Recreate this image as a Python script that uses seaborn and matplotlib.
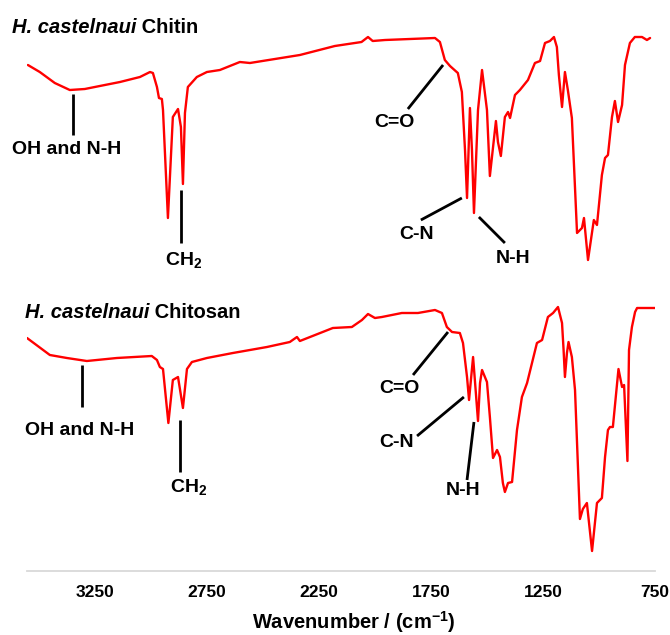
import numpy as np
import pandas as pd
import matplotlib
matplotlib.use("Agg")
import matplotlib.pyplot as plt
import seaborn as sns

# ── Spectra (transmittance, arbitrary %) ─────────────────────────────────────
chitin_wavenumber = [3549, 3496, 3429, 3362, 3295, 3228, 3138, 3049, 3004, 2991,
                     2973, 2964, 2951, 2946, 2924, 2902, 2879, 2866, 2857, 2848,
                     2835, 2795, 2750, 2692, 2603, 2558, 2335, 2179, 2060, 2031,
                     2010, 1955, 1732, 1710, 1688, 1665, 1630, 1612, 1598, 1589,
                     1576, 1567, 1558, 1540, 1522, 1500, 1487, 1460, 1451, 1438,
                     1420, 1406, 1397, 1375, 1353, 1317, 1286, 1263, 1241, 1219,
                     1201, 1188, 1179, 1165, 1152, 1139, 1121, 1098, 1076, 1067,
                     1049, 1023, 1009, 987, 973, 960, 942, 929, 915, 897,
                     884, 862, 840, 808, 786, 772]
chitin_transmittance = [88.8, 86.0, 81.6, 78.8, 79.2, 80.4, 82.0, 84.0, 86.0, 85.6,
                        80.0, 75.6, 75.2, 70.8, 27.6, 68.0, 71.2, 64.0, 41.2, 69.6,
                        80.0, 84.0, 86.0, 86.8, 90.0, 89.6, 92.8, 96.4, 98.0, 100.0,
                        98.4, 98.8, 99.6, 98.0, 90.8, 88.4, 85.6, 78.0, 54.8, 35.6,
                        71.6, 54.8, 29.6, 70.8, 86.8, 70.8, 44.4, 66.4, 58.0, 52.4,
                        68.0, 70.0, 67.6, 76.8, 78.8, 82.8, 89.6, 90.4, 97.6, 98.4,
                        100.0, 96.0, 84.8, 72.0, 86.0, 78.8, 67.6, 21.6, 23.6, 27.6,
                        10.8, 26.8, 24.8, 44.8, 51.6, 52.8, 68.0, 74.4, 66.0, 72.8,
                        88.8, 97.6, 100.0, 100.0, 98.8, 99.6]

chitosan_wavenumber = [3553, 3451, 3375, 3286, 3152, 2996, 2973, 2960, 2946, 2922,
                       2902, 2879, 2857, 2839, 2817, 2750, 2634, 2482, 2380, 2348,
                       2335, 2188, 2103, 2058, 2031, 2000, 1969, 1880, 1808, 1732,
                       1701, 1679, 1656, 1621, 1607, 1589, 1580, 1562, 1554, 1540,
                       1531, 1522, 1500, 1487, 1473, 1455, 1442, 1429, 1420, 1406,
                       1388, 1366, 1344, 1321, 1299, 1277, 1254, 1228, 1205, 1183,
                       1165, 1158, 1152, 1143, 1136, 1121, 1107, 1085, 1072, 1054,
                       1031, 1009, 987, 973, 960, 951, 938, 913, 897, 888,
                       873, 866, 853, 839, 830, 795, 750]
chitosan_transmittance = [87.6, 80.8, 79.6, 78.4, 79.6, 80.4, 78.8, 76.0, 75.2, 53.6,
                          70.8, 72.0, 59.6, 75.2, 78.0, 79.6, 81.6, 84.0, 86.0, 88.0,
                          86.4, 91.6, 92.0, 94.8, 97.2, 95.6, 96.0, 97.6, 97.6, 98.8,
                          97.6, 92.0, 90.0, 89.6, 85.6, 72.0, 62.8, 80.0, 70.8, 54.4,
                          69.6, 74.8, 70.0, 56.0, 39.6, 42.8, 40.0, 29.6, 26.0, 29.6,
                          30.0, 50.8, 64.0, 69.6, 77.6, 85.6, 86.8, 96.0, 97.6, 100.0,
                          93.6, 82.8, 72.0, 81.6, 86.0, 80.0, 66.8, 15.2, 19.2, 21.6,
                          2.4, 21.6, 23.6, 40.0, 50.8, 52.0, 52.0, 75.2, 68.0, 68.8,
                          38.4, 82.8, 92.0, 98.0, 99.6, 99.6, 99.6]

xticks = [3250, 2750, 2250, 1750, 1250, 750]
chitin_offset = 108  # vertical stacking of the two spectra

# band labels: text, text anchor (wavenumber, y), alignment, leader line ends
band_labels = [
    ("OH and N-H", (3620, 161.2), "left", (3348, 185.2), (3348, 168.8)),
    ("CH$_2$", (2853, 116.8), "center", (2866, 146.8), (2866, 125.6)),
    ("C=O", (1914, 172.0), "center", (1696, 196.8), (1853, 179.2)),
    ("C-N", (1814, 127.4), "center", (1612, 143.6), (1795, 134.8)),
    ("N-H", (1383, 117.6), "center", (1536, 136.0), (1420, 125.6)),
    ("OH and N-H", (3562, 48.8), "left", (3308, 76.8), (3308, 60.0)),
    ("CH$_2$", (2833, 26.0), "center", (2871, 54.8), (2871, 34.0)),
    ("C=O", (1891, 65.6), "center", (1674, 90.0), (1830, 72.8)),
    ("C-N", (1903, 44.0), "center", (1603, 64.0), (1812, 48.4)),
    ("N-H", (1606, 24.8), "center", (1558, 54.0), (1589, 30.8)),
]
titles = [("H. castelnaui", " Chitin", (3620, 209.8)),
          ("H. castelnaui", " Chitosan", (3562, 95.6))]

sns.set_style("white")
plt.rcParams["font.family"] = ["Liberation Sans", "DejaVu Sans"]
plt.rcParams["text.color"] = "black"
plt.rcParams["axes.labelcolor"] = "black"
plt.rcParams["xtick.color"] = "black"
plt.rcParams["mathtext.fontset"] = "custom"
plt.rcParams["mathtext.rm"] = "Liberation Sans:bold"
plt.rcParams["mathtext.it"] = "Liberation Sans:bold:italic"
plt.rcParams["mathtext.bf"] = "Liberation Sans:bold"
plt.rcParams["mathtext.default"] = "rm"

df = pd.concat([
    pd.DataFrame({"wavenumber": chitin_wavenumber,
                  "T": np.array(chitin_transmittance) + chitin_offset,
                  "sample": "chitin"}),
    pd.DataFrame({"wavenumber": chitosan_wavenumber,
                  "T": chitosan_transmittance,
                  "sample": "chitosan"}),
])

fig = plt.figure(figsize=(6.7, 6.35), dpi=100)
ax = fig.add_axes([27 / 670, 64 / 635, 628 / 670, 541 / 635])

sns.lineplot(data=df, x="wavenumber", y="T", hue="sample",
             palette={"chitin": "#ff0000", "chitosan": "#ff0000"},
             estimator=None, sort=False, legend=False, linewidth=1.7, ax=ax)

ax.set_xlim(3553, 750)
ax.set_ylim(-5.6, 210.8)
ax.set_xticks(xticks)
ax.set_xticklabels([str(t) for t in xticks], fontweight="bold")
ax.tick_params(axis="x", length=0, pad=10, labelsize=12.5)
ax.set_yticks([])
ax.set_ylabel("")
ax.set_xlabel("Wavenumber / (cm$^{-1}$)", fontsize=14.5, fontweight="bold")
ax.xaxis.set_label_coords(0.521, -0.07)
sns.despine(ax=ax, left=True)
ax.spines["bottom"].set_color("#d9d9d9")
ax.spines["bottom"].set_linewidth(1.3)

for text, (tx, ty), ha, p0, p1 in band_labels:
    ax.plot([p0[0], p1[0]], [p0[1], p1[1]], color="black", lw=2,
            solid_capstyle="butt", clip_on=False)
    ax.text(tx, ty, text, ha=ha, va="baseline", fontsize=14,
            fontweight="bold", clip_on=False)

for italic, plain, (tx, ty) in titles:
    t = ax.text(tx, ty, italic, fontsize=14.5, fontweight="bold",
                fontstyle="italic", va="baseline", ha="left", clip_on=False)
    ax.annotate(plain, xy=(1, 0), xycoords=t, va="bottom", ha="left",
                fontsize=14.5, fontweight="bold", annotation_clip=False)

fig.savefig("out.png", dpi=100)
plt.close(fig)
